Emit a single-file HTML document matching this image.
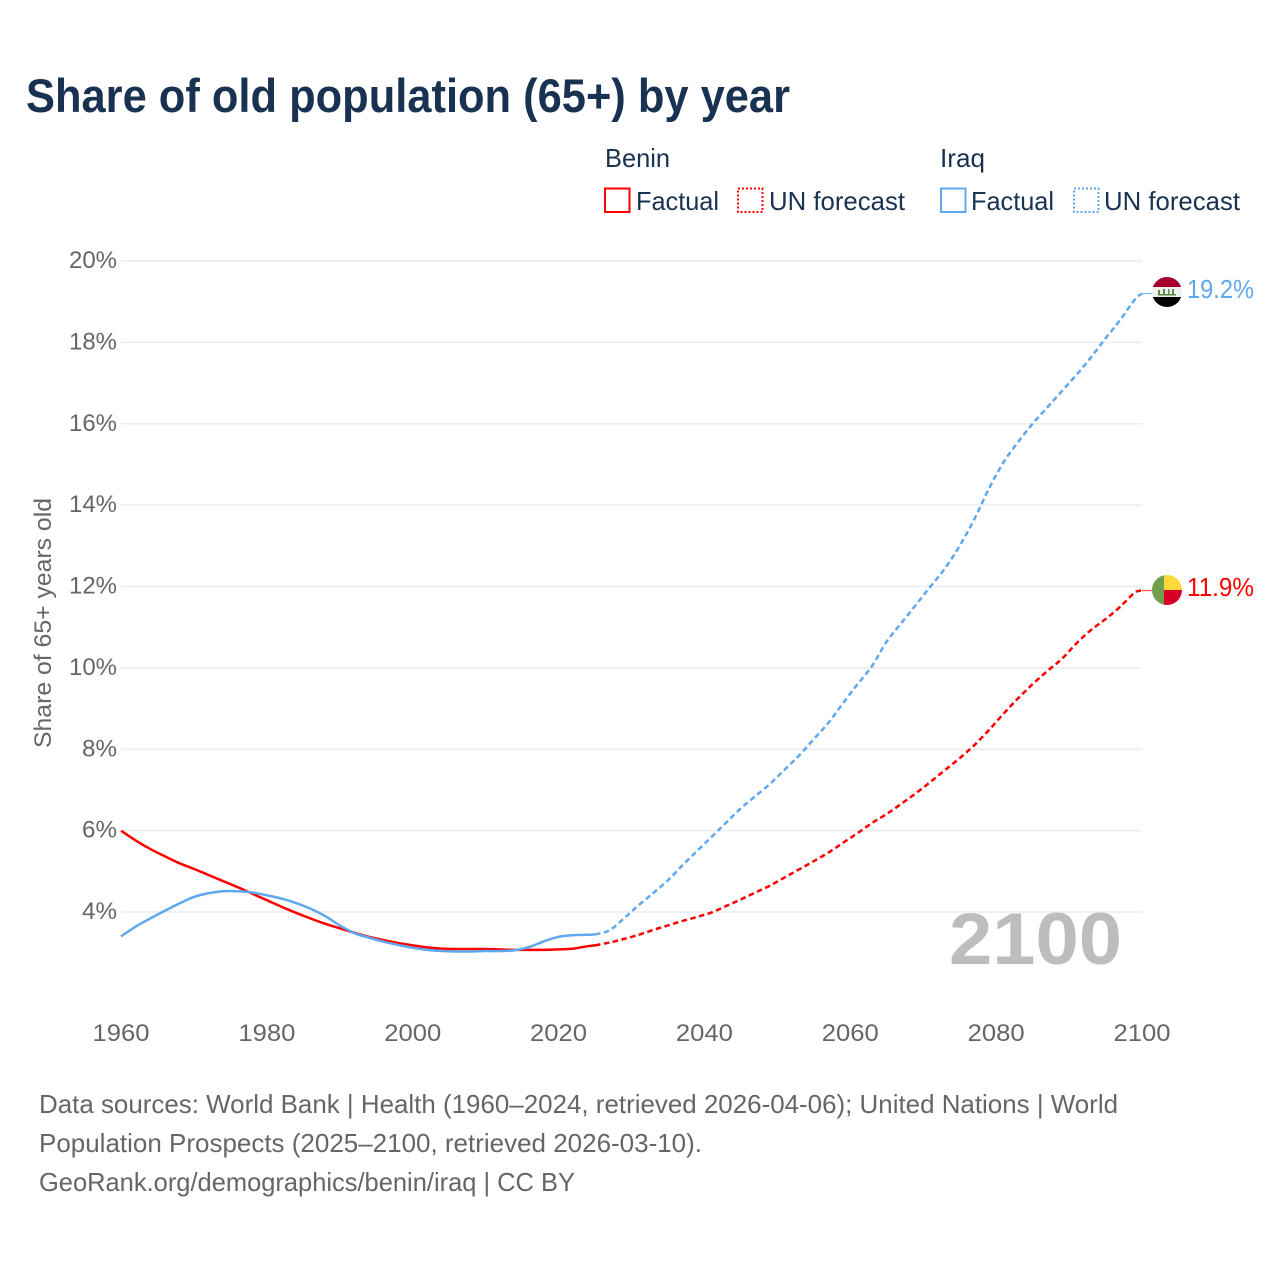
<!DOCTYPE html>
<html lang="en">
<head>
<meta charset="utf-8">
<title>Share of old population (65+) by year</title>
<style>
html,body{margin:0;padding:0;background:#fff;width:1280px;height:1280px;overflow:hidden}
svg{display:block}
text{font-family:"Liberation Sans",sans-serif}
</style>
</head>
<body>
<svg id="chart" xmlns="http://www.w3.org/2000/svg" width="1280" height="1280" viewBox="0 0 1280 1280">
  <text x="26" y="112" font-size="47" font-weight="700" fill="#1a3251" textLength="764" lengthAdjust="spacingAndGlyphs">Share of old population (65+) by year</text>

  <g font-size="26" fill="#1a3251">
    <text x="605" y="167" textLength="65" lengthAdjust="spacingAndGlyphs">Benin</text>
    <text x="940" y="167" textLength="45" lengthAdjust="spacingAndGlyphs">Iraq</text>
    <rect x="605" y="188.5" width="24.5" height="23.5" fill="none" stroke="#ff0000" stroke-width="2"/>
    <text x="636" y="210" textLength="83" lengthAdjust="spacingAndGlyphs">Factual</text>
    <rect x="738" y="188.5" width="24.5" height="23.5" fill="none" stroke="#ff0000" stroke-width="2" stroke-dasharray="2 2"/>
    <text x="769" y="210" textLength="136" lengthAdjust="spacingAndGlyphs">UN forecast</text>
    <rect x="941" y="188.5" width="24.5" height="23.5" fill="none" stroke="#5fa8ee" stroke-width="2"/>
    <text x="971" y="210" textLength="83" lengthAdjust="spacingAndGlyphs">Factual</text>
    <rect x="1074" y="188.5" width="24.5" height="23.5" fill="none" stroke="#5fa8ee" stroke-width="2" stroke-dasharray="2 2"/>
    <text x="1104" y="210" textLength="136" lengthAdjust="spacingAndGlyphs">UN forecast</text>
  </g>

  <g id="grid"></g>
  <g id="yticks"></g>
  <g id="xticks"></g>

  <text transform="translate(51 748) rotate(-90)" font-size="24" fill="#666" textLength="250" lengthAdjust="spacingAndGlyphs">Share of 65+ years old</text>

  <text x="949" y="964" font-size="73" font-weight="700" fill="#bdbdbd" textLength="173" lengthAdjust="spacingAndGlyphs">2100</text>

  <g id="series"></g>

  <defs>
    <clipPath id="clip-iraq"><circle cx="1167" cy="292" r="15"/></clipPath>
    <clipPath id="clip-benin"><circle cx="1167" cy="590" r="15"/></clipPath>
  </defs>
  <g clip-path="url(#clip-iraq)">
    <rect x="1152" y="277" width="30" height="10" fill="#a5002b"/>
    <rect x="1152" y="287" width="30" height="10" fill="#eeeeee"/>
    <rect x="1152" y="297" width="30" height="10" fill="#000000"/>
    <rect x="1158" y="294" width="18" height="1.5" fill="#5c8a45"/>
    <rect x="1158" y="290" width="2" height="4" fill="#5c8a45"/>
    <rect x="1163" y="289" width="2" height="5" fill="#5c8a45"/>
    <rect x="1168" y="289" width="1.5" height="5" fill="#5c8a45"/>
    <rect x="1172" y="289" width="2" height="5" fill="#5c8a45"/>
  </g>
  <g clip-path="url(#clip-benin)">
    <rect x="1152" y="575" width="12" height="30" fill="#6fa04a"/>
    <rect x="1164" y="575" width="18" height="15" fill="#ffd83d"/>
    <rect x="1164" y="590" width="18" height="15" fill="#d80027"/>
  </g>
  <text x="1187" y="298" font-size="26" fill="#5fa8ee" textLength="67" lengthAdjust="spacingAndGlyphs">19.2%</text>
  <text x="1187" y="596" font-size="26" fill="#ff0000" textLength="67" lengthAdjust="spacingAndGlyphs">11.9%</text>

  <g font-size="26" fill="#666">
    <text x="39" y="1113" textLength="1079" lengthAdjust="spacingAndGlyphs">Data sources: World Bank | Health (1960–2024, retrieved 2026-04-06); United Nations | World</text>
    <text x="39" y="1152" textLength="663" lengthAdjust="spacingAndGlyphs">Population Prospects (2025–2100, retrieved 2026-03-10).</text>
    <text x="39" y="1191" textLength="536" lengthAdjust="spacingAndGlyphs">GeoRank.org/demographics/benin/iraq | CC BY</text>
  </g>
</svg>

<script>
const yTickValues = [4, 6, 8, 10, 12, 14, 16, 18, 20];
const xTickValues = [1960, 1980, 2000, 2020, 2040, 2060, 2080, 2100];

const factualYears = [1960,1962,1964,1966,1968,1970,1972,1974,1976,1978,1980,1982,1984,1986,1988,1990,1992,1994,1996,1998,2000,2002,2004,2006,2008,2010,2012,2014,2016,2018,2020,2022,2024,2025];
const beninFactual = [6.0,5.76,5.55,5.37,5.2,5.06,4.91,4.76,4.61,4.45,4.29,4.13,3.98,3.84,3.71,3.6,3.49,3.39,3.31,3.24,3.18,3.13,3.1,3.09,3.09,3.09,3.08,3.07,3.07,3.07,3.08,3.1,3.16,3.18];
const iraqFactual = [3.4,3.64,3.84,4.03,4.21,4.37,4.46,4.51,4.51,4.48,4.41,4.33,4.22,4.08,3.9,3.67,3.48,3.37,3.27,3.19,3.12,3.07,3.04,3.03,3.03,3.04,3.04,3.06,3.14,3.28,3.39,3.43,3.44,3.45];

const forecastYears = [2025,2027,2029,2031,2033,2035,2037,2039,2041,2043,2045,2047,2049,2051,2053,2055,2057,2059,2061,2063,2065,2067,2069,2071,2073,2075,2077,2079,2081,2083,2085,2087,2089,2091,2093,2095,2097,2099,2100];
const beninForecast = [3.18,3.25,3.34,3.44,3.56,3.67,3.78,3.88,3.99,4.15,4.31,4.48,4.65,4.85,5.05,5.25,5.46,5.7,5.94,6.19,6.41,6.66,6.92,7.2,7.49,7.78,8.1,8.47,8.87,9.25,9.6,9.92,10.22,10.6,10.93,11.2,11.5,11.85,11.9];
const iraqForecast = [3.45,3.55,3.85,4.17,4.47,4.78,5.15,5.5,5.85,6.2,6.55,6.85,7.15,7.5,7.85,8.25,8.65,9.13,9.6,10.05,10.65,11.1,11.55,12.0,12.45,13.0,13.65,14.4,15.05,15.55,16.0,16.4,16.8,17.2,17.63,18.1,18.55,19.05,19.2];

const NS = 'http://www.w3.org/2000/svg';
function xScale(year) { return 121 + (year - 1960) * (1142 - 121) / 140; }
function yScale(pct) { return 912 - (pct - 4) * (912 - 261) / 16; }

function svgEl(tag, attrs, parent) {
  const el = document.createElementNS(NS, tag);
  for (const k in attrs) el.setAttribute(k, attrs[k]);
  parent.appendChild(el);
  return el;
}

const gridGroup = document.getElementById('grid');
const yGroup = document.getElementById('yticks');
const xGroup = document.getElementById('xticks');
const seriesGroup = document.getElementById('series');

yTickValues.forEach(function (v) {
  const line = svgEl('line', {x1: 121, x2: 1142, y1: yScale(v), y2: yScale(v), stroke: '#ececec', 'stroke-width': 1.5}, gridGroup);
  
  
  const t = svgEl('text', {x: 117, y: yScale(v) + 7, 'text-anchor': 'end', 'font-size': 24, fill: '#666', textLength: v >= 10 ? 48 : 35, lengthAdjust: 'spacingAndGlyphs'}, yGroup);
  
  
  t.textContent = v + '%';
});

xTickValues.forEach(function (v) {
  const t = svgEl('text', {x: xScale(v) - 28.5, y: 1041, 'font-size': 24, fill: '#666', textLength: 57, lengthAdjust: 'spacingAndGlyphs'}, xGroup);
  
  
  t.textContent = v;
});

function pathFrom(years, values) {
  const pts = years.map(function (y, i) { return [xScale(y), yScale(values[i])]; });
  let d = 'M' + pts[0][0].toFixed(2) + ' ' + pts[0][1].toFixed(2);
  for (let i = 0; i < pts.length - 1; i++) {
    const p0 = pts[Math.max(i - 1, 0)];
    const p1 = pts[i];
    const p2 = pts[i + 1];
    const p3 = pts[Math.min(i + 2, pts.length - 1)];
    const c1x = p1[0] + (p2[0] - p0[0]) / 6;
    const c1y = p1[1] + (p2[1] - p0[1]) / 6;
    const c2x = p2[0] - (p3[0] - p1[0]) / 6;
    const c2y = p2[1] - (p3[1] - p1[1]) / 6;
    d += ' C' + c1x.toFixed(2) + ' ' + c1y.toFixed(2) + ' ' + c2x.toFixed(2) + ' ' + c2y.toFixed(2) + ' ' + p2[0].toFixed(2) + ' ' + p2[1].toFixed(2);
  }
  return d;
}

const beninForecastLine = svgEl('path', {d: pathFrom(forecastYears, beninForecast), fill: 'none', stroke: '#ff0000', 'stroke-width': 2.5, 'stroke-dasharray': '5.5 3.5'}, seriesGroup);



const iraqForecastLine = svgEl('path', {d: pathFrom(forecastYears, iraqForecast), fill: 'none', stroke: '#5fa8ee', 'stroke-width': 2.5, 'stroke-dasharray': '5.5 3.5'}, seriesGroup);



const beninFactualLine = svgEl('path', {d: pathFrom(factualYears, beninFactual), fill: 'none', stroke: '#ff0000', 'stroke-width': 2.5, 'stroke-linejoin': 'round'}, seriesGroup);



const iraqFactualLine = svgEl('path', {d: pathFrom(factualYears, iraqFactual), fill: 'none', stroke: '#5fa8ee', 'stroke-width': 2.5, 'stroke-linejoin': 'round'}, seriesGroup);



const lastBenin = beninForecast[beninForecast.length - 1];
const beninLeader = svgEl('line', {x1: xScale(2100), x2: 1152, y1: yScale(lastBenin), y2: yScale(lastBenin), stroke: '#ff0000', 'stroke-width': 1.2, opacity: 0.7}, seriesGroup);



const lastIraq = iraqForecast[iraqForecast.length - 1];
const iraqLeader = svgEl('line', {x1: xScale(2100), x2: 1152, y1: yScale(lastIraq), y2: yScale(lastIraq), stroke: '#5fa8ee', 'stroke-width': 1.2, opacity: 0.8}, seriesGroup);


</script>
</body>
</html>
